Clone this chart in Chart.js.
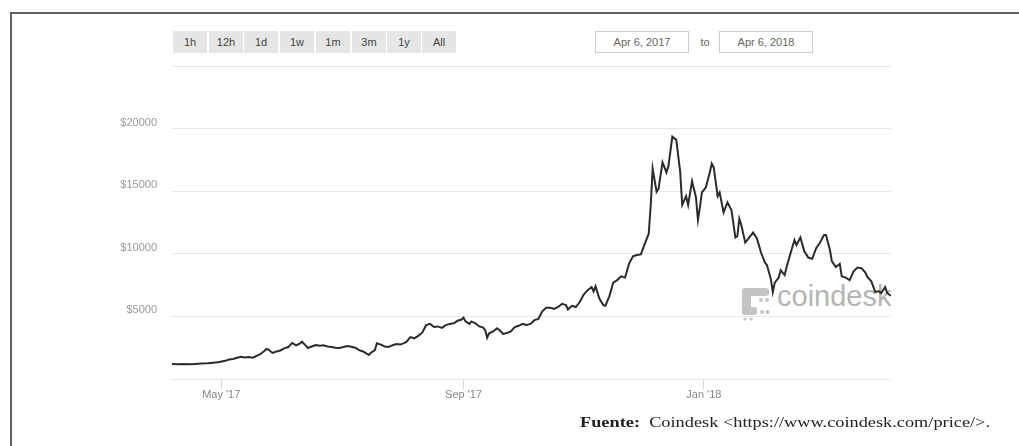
<!DOCTYPE html>
<html>
<head>
<meta charset="utf-8">
<script src="https://cdn.jsdelivr.net/npm/chart.js@4.4.1/dist/chart.umd.min.js"></script>
<style>
  html, body { margin: 0; padding: 0; background: #fff; overflow: hidden; }
  body { width: 1019px; height: 446px; position: relative; font-family: "Liberation Sans", Arial, sans-serif; }
  #frameTop { position: absolute; left: 10px; top: 12px; width: 1009px; height: 2px; background: #5f5f5f; }
  #frameLeft { position: absolute; left: 10px; top: 12px; width: 2px; height: 434px; background: #5f5f5f; }
  .btn { position: absolute; top: 31px; height: 22px; width: 34px; background: #e6e6e6; color: #444; font-size: 11px; line-height: 22px; text-align: center; }
  .datebox { position: absolute; top: 31px; height: 20px; width: 92px; border: 1px solid #cccccc; color: #666; font-size: 11px; line-height: 20px; text-align: center; background: #fff; }
  #to { position: absolute; top: 31px; left: 698px; width: 14px; font-size: 11px; line-height: 22px; color: #666; text-align: center; }
  #wm { position: absolute; left: 742px; top: 283px; width: 160px; height: 40px; }
  #wmtext { position: absolute; left: 35px; top: -3px; font-size: 29px; color: #b5b5b5; font-family: "Liberation Sans", Arial, sans-serif; }
  #chart { position: absolute; left: 0; top: 0; }
  #src { position: absolute; left: 580px; top: 414px; font-family: "Liberation Serif", "DejaVu Serif", serif; font-size: 15px; color: #222; white-space: pre; transform-origin: 0 0; }
  #src b { font-weight: bold; }
</style>
</head>
<body>
<div id="frameTop"></div>
<div id="frameLeft"></div>
<div class="btn" style="left:173px">1h</div>
<div class="btn" style="left:209px">12h</div>
<div class="btn" style="left:244px">1d</div>
<div class="btn" style="left:280px">1w</div>
<div class="btn" style="left:316px">1m</div>
<div class="btn" style="left:352px">3m</div>
<div class="btn" style="left:387px">1y</div>
<div class="btn" style="left:422px">All</div>
<div class="datebox" style="left:595px">Apr 6, 2017</div>
<div id="to">to</div>
<div class="datebox" style="left:719px">Apr 6, 2018</div>
<div id="wm">
  <svg width="30" height="34" style="position:absolute;left:0;top:5px" viewBox="0 0 30 34">
    <g fill="#c4c4c4">
      <rect x="1" y="0" width="26" height="8" rx="3"/>
      <rect x="0" y="0" width="9" height="27" rx="3"/>
      <rect x="0" y="19" width="15" height="8" rx="3"/>
      <circle cx="19" cy="12" r="2"/>
      <circle cx="25" cy="12" r="2"/>
      <circle cx="20" cy="24" r="2"/>
      <circle cx="25.5" cy="24" r="2"/>
      <circle cx="3" cy="31" r="1.6"/>
      <circle cx="9" cy="31" r="1.6"/>
    </g>
  </svg>
  <div id="wmtext">coindesk</div>
</div>
<canvas id="chart" width="1019" height="446"></canvas>
<div id="src"><b>Fuente:</b>  Coindesk &lt;https://www.coindesk.com/price/&gt;.</div>
<script>
// Days since Apr 6, 2017
const dayOffsets = [0,3,6,9,12,15,18,21,24,27,29,31,33,35,37,39,41,43,45,47,48,49,51,53,55,57,59,61,63,65,66,68,69,71,73,75,77,79,81,83,85,87,89,91,93,95,97,99,100,101,103,104,106,108,110,112,114,116,118,119,121,123,125,127,129,131,133,135,137,139,141,143,145,147,148,149,151,152,154,156,158,159,160,161,163,165,167,168,170,172,174,176,178,180,182,184,186,188,190,192,194,196,198,200,201,203,205,207,209,211,213,214,215,217,219,220,222,224,226,228,230,232,234,236,238,240,242,243,244,246,247,249,251,252,254,256,258,259,261,262,264,266,267,268,269,271,273,274,275,277,278,280,282,284,286,287,288,289,291,293,295,297,299,301,302,304,305,306,308,309,311,312,314,316,317,319,321,323,325,327,329,331,332,334,335,337,339,340,342,344,346,348,350,352,353,355,357,359,360,362,363,364,365];
// Bitcoin price (USD)
const prices = [1190,1180,1200,1170,1200,1230,1250,1300,1350,1450,1550,1600,1700,1780,1720,1750,1700,1850,2000,2250,2400,2350,2080,2200,2280,2450,2550,2880,2680,2850,2980,2650,2480,2600,2720,2650,2700,2600,2560,2500,2480,2550,2640,2580,2500,2300,2200,2000,1920,2100,2300,2850,2750,2600,2560,2700,2800,2750,2880,2960,3350,3250,3440,3700,4300,4400,4150,4200,4080,4300,4400,4450,4650,4750,4900,4600,4400,4600,4450,4200,4100,3900,3300,3650,3800,4050,3800,3600,3680,3800,4150,4250,4400,4320,4400,4700,4800,5400,5700,5700,5600,5750,6000,5900,5550,5850,5750,6150,6750,7100,7350,7000,7400,6400,5900,5850,6600,7700,7900,8200,8100,9200,9800,9900,9950,10800,11600,13800,16800,14950,15200,17300,16500,17000,19350,19100,16500,13900,14600,13900,15800,14500,12700,13700,14900,15300,16500,17200,16900,14600,14900,13300,14100,13500,11300,11400,12800,12300,10900,11300,11700,11200,10100,9300,9100,8000,6950,7700,8100,8700,8300,8950,10050,11100,10700,11300,10200,9700,9600,10450,10900,11500,11500,10300,9400,8950,9200,8200,8100,7900,8600,8900,8850,8500,8150,7800,6950,7000,6850,7350,6900,6750,6650];
const xTickDays = [25, 148, 270];
const xTickLabels = ["May '17", "Sep '17", "Jan '18"];
const yTickValues = [0, 5000, 10000, 15000, 20000, 25000];
const yTickLabels = ["", "$5000", "$10000", "$15000", "$20000", ""];

const points = dayOffsets.map((d, i) => ({ x: d, y: prices[i] }));

new Chart(document.getElementById('chart'), {
  type: 'line',
  data: {
    datasets: [{
      data: points,
      borderColor: '#2b2b2b',
      borderWidth: 2,
      pointRadius: 0,
      tension: 0,
      fill: false
    }]
  },
  options: {
    responsive: false,
    animation: false,
    events: [],
    layout: { padding: { left: 0, top: 66, right: 128, bottom: 0 } },
    plugins: { legend: { display: false }, tooltip: { enabled: false } },
    scales: {
      x: {
        type: 'linear',
        min: 0,
        max: 365,
        afterBuildTicks: (s) => { s.ticks = xTickDays.map(v => ({ value: v })); },
        afterFit: (s) => { s.height = 67; },
        border: { display: false },
        grid: { drawOnChartArea: false, drawTicks: true, tickLength: 10, color: '#ccd6eb' },
        ticks: {
          autoSkip: false, maxRotation: 0, minRotation: 0, padding: -1,
          color: '#888', font: { family: 'Liberation Sans, Arial, sans-serif', size: 11 },
          callback: (v) => { const i = xTickDays.indexOf(v); return i >= 0 ? xTickLabels[i] : ''; }
        }
      },
      y: {
        min: 0,
        max: 25000,
        afterBuildTicks: (s) => { s.ticks = yTickValues.map(v => ({ value: v })); },
        afterFit: (s) => { s.width = 172; },
        border: { display: false },
        grid: { drawTicks: false, color: '#e6e6e6', lineWidth: 1 },
        ticks: {
          padding: 15, labelOffset: -6,
          color: '#999', font: { family: 'Liberation Sans, Arial, sans-serif', size: 11 },
          callback: (v) => { const i = yTickValues.indexOf(v); return i >= 0 ? yTickLabels[i] : ''; }
        }
      }
    }
  }
});

// fit the source note to its width in the reference
const src = document.getElementById('src');
const w = src.getBoundingClientRect().width;
src.style.transform = 'scaleX(' + (410 / w) + ')';
</script>
</body>
</html>
